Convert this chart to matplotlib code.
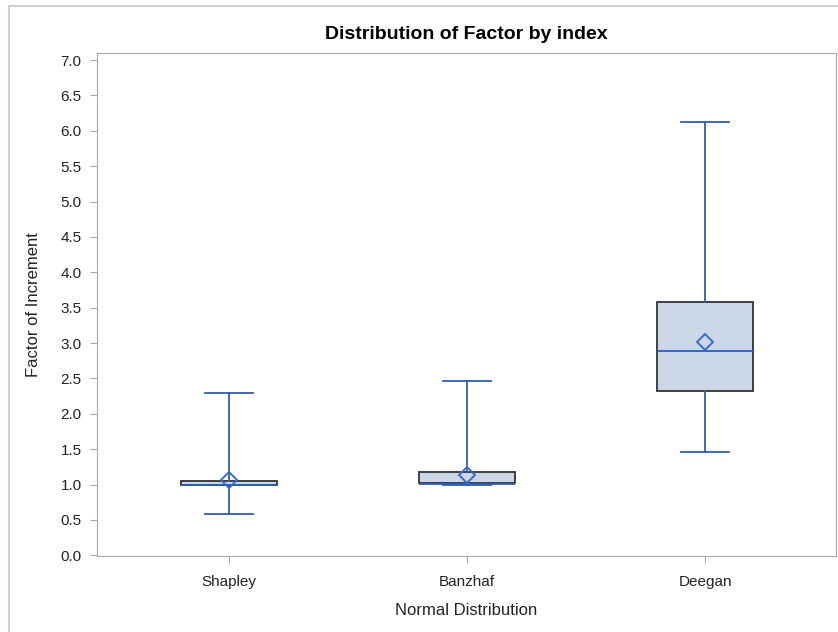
import matplotlib.pyplot as plt
from matplotlib.patches import Rectangle

plt.rcParams['font.family'] = ['Liberation Sans', 'DejaVu Sans']

# summary statistics per index
labels = ['Shapley', 'Banzhaf', 'Deegan']
whislo = [0.58, 1.00, 1.46]
q1 = [0.99, 1.02, 2.32]
med = [1.00, 1.01, 2.89]
q3 = [1.05, 1.18, 3.58]
whishi = [2.29, 2.46, 6.12]
means = [1.06, 1.13, 3.02]

stats = []
for i in range(len(labels)):
    stats.append(dict(label=labels[i], whislo=whislo[i], q1=q1[i], med=med[i],
                      q3=q3[i], whishi=whishi[i], mean=means[i], fliers=[]))

blue = '#2F5DB5'
fig = plt.figure(figsize=(8.38, 6.32), dpi=100)
ax = fig.add_axes([97 / 838, 76 / 632, 739 / 838, 503 / 632])

ax.bxp(stats, positions=[1, 2, 3], widths=0.4, patch_artist=True, showmeans=True,
       boxprops=dict(facecolor='#CBD6E6', edgecolor='#333333', linewidth=1.3),
       medianprops=dict(color=blue, linewidth=1.3),
       whiskerprops=dict(color=blue, linewidth=1.3),
       capprops=dict(color=blue, linewidth=1.3),
       capwidths=0.2,
       meanprops=dict(marker='D', markerfacecolor='none', markeredgecolor='#3B6CC4',
                      markersize=8, markeredgewidth=1.4))

ax.set_xlim(0.445, 3.55)
ax.set_ylim(-0.01, 7.1)
ax.set_yticks([i * 0.5 for i in range(15)])
ax.set_yticklabels([f'{i * 0.5:.1f}' for i in range(15)])

for s in ax.spines.values():
    s.set_color('#A8A8A8')
ax.tick_params(colors='#A8A8A8', labelcolor='#222222', labelsize=11, length=5)
ax.tick_params(axis='x', pad=9)
ax.tick_params(axis='y', pad=6)

ax.set_title('Distribution of Factor by index', fontsize=14, fontweight='bold', pad=10)
ax.set_xlabel('Normal Distribution', fontsize=12, labelpad=10, color='#222222')
ax.set_ylabel('Factor of Increment', fontsize=12, labelpad=14, color='#222222')

# outer frame
fig.patches.append(Rectangle((8.5 / 838, -0.1), 1.2, (632 - 5.5) / 632 + 0.1,
                             transform=fig.transFigure, fill=False,
                             edgecolor='#D0D0D0', linewidth=1.5))

fig.savefig('out.png', dpi=100)
